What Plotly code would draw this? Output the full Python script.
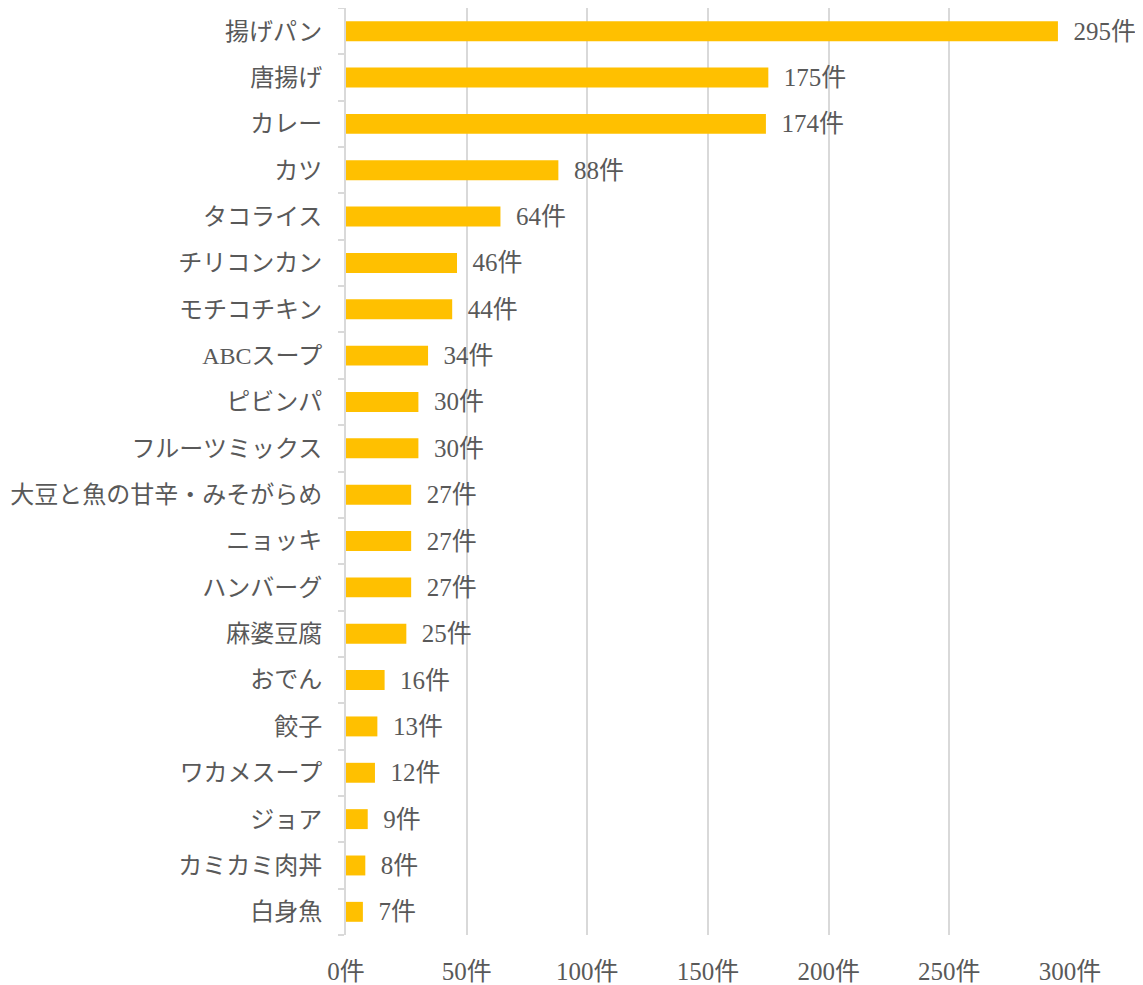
import plotly.graph_objects as go

categories = ["揚げパン", "唐揚げ", "カレー", "カツ", "タコライス", "チリコンカン", "モチコチキン",
              "ABCスープ", "ピビンパ", "フルーツミックス", "大豆と魚の甘辛・みそがらめ", "ニョッキ",
              "ハンバーグ", "麻婆豆腐", "おでん", "餃子", "ワカメスープ", "ジョア", "カミカミ肉丼", "白身魚"]
values = [295, 175, 174, 88, 64, 46, 44, 34, 30, 30, 27, 27, 27, 25, 16, 13, 12, 9, 8, 7]
tick_vals = [0, 50, 100, 150, 200, 250, 300]
tick_text = [f"{v}件" for v in tick_vals]

FONT = "Liberation Serif, 'Noto Sans CJK JP', serif"
TXT = "#595959"
GRID = "#d9d9d9"

fig = go.Figure(go.Bar(
    x=values, y=categories, orientation="h",
    marker=dict(color="#FFC000", line=dict(width=0)),
    text=[f"\u00a0\u00a0{v}件" for v in values],
    textposition="outside", cliponaxis=False, constraintext="none",
    textfont=dict(family=FONT, size=25, color=TXT),
))

fig.update_layout(
    width=1143, height=985,
    margin=dict(l=338, r=81, t=0, b=58, autoexpand=False),
    plot_bgcolor="white", paper_bgcolor="white",
    bargap=0.57, showlegend=False,
    font=dict(family=FONT, size=24, color=TXT),
    xaxis=dict(range=[0, 300], tickvals=tick_vals, ticktext=tick_text, automargin=False,
               showgrid=True, gridcolor=GRID, gridwidth=2, zeroline=False,
               showline=False, ticks="", tickfont=dict(size=25, color=TXT),
               ticklabelstandoff=19),
    yaxis=dict(categoryorder="array", categoryarray=categories[::-1], automargin=False,
               showline=True, linecolor=GRID, linewidth=2,
               ticks="outside", tickson="boundaries", ticklen=6, tickcolor=GRID, tickwidth=2,
               tickfont=dict(size=24, color=TXT), ticklabelstandoff=17),
)

fig.write_html("out.html")
